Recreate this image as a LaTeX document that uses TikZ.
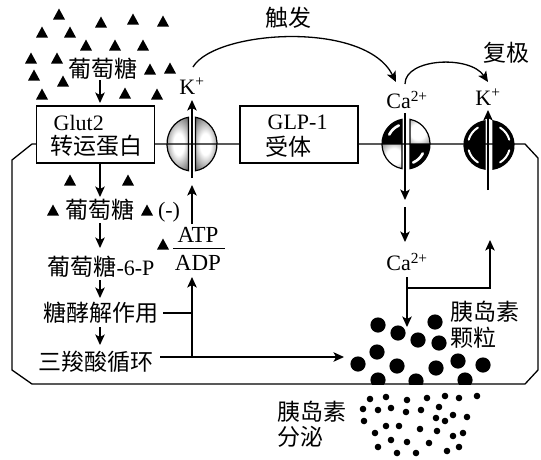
\documentclass[tikz,border=0pt]{standalone}
\usepackage{fontspec}
\setmainfont{Liberation Serif}
\newfontfamily\cjk{Noto Sans CJK SC}
\usetikzlibrary{arrows.meta}
% fills of the channel subunits
\pgfdeclareradialshading{chanlight}{\pgfpoint{0bp}{0bp}}{color(0bp)=(white); color(16bp)=(white); color(36bp)=(black!45); color(50bp)=(black!85)}
\pgfdeclareradialshading{chanmid}{\pgfpoint{0bp}{0bp}}{color(0bp)=(white); color(10bp)=(white); color(30bp)=(black!60); color(50bp)=(black!90)}
% part of a channel: arc of its ellipse, closed along the central slit
\newcommand\qpath[7]{(#1,#2) ++(#5:#3 and #4) arc[start angle=#5,end angle=#6,x radius=#3,y radius=#4] -- (#7,#2) -- cycle}
\tikzset{
  tri/.pic={\fill (-6,5.5) -- (6,5.5) -- (0,-5.5) -- cycle;},
}
\begin{document}
\begin{tikzpicture}[x=1pt,y=-1pt,line width=1.3pt,
  arr/.style={-{Stealth[length=10.5pt,width=9.5pt,inset=2.5pt]}},
  lat/.style={inner sep=0pt,font=\fontsize{22}{24}\selectfont},
  zh/.style={inner sep=0pt,font=\cjk\fontsize{23}{25}\selectfont},
  membox/.style={draw,fill=white,line width=1.3pt,minimum width=118pt,minimum height=57pt,inner sep=0pt},
  crescent/.style={white,line width=2.6pt,line cap=round},
  chanline/.style={line width=1.2pt},
]
\useasboundingbox (0,0) rectangle (541,459);

% glucose molecules
\foreach \p in {(59,14),(101,22),(133,19),(163,21),(42,32),(70,32),(86,45),(115,45),(143,45),
  (31,58),(57,58),(150,69),(170,68),(34,75),(63,81),(42,94),(125,93),(157,94),
  (70,180),(128,180),(53,210),(147,210),(163,244)}
  \pic at \p {tri};

% KATP channel
\shade[shading=chanmid] \qpath{192}{144}{25}{27}{98}{262}{188.5};
\shade[shading=chanmid] \qpath{192}{144}{25}{27}{-82}{82}{195.5};
\draw[chanline] \qpath{192}{144}{25}{27}{98}{262}{188.5};
\draw[chanline] \qpath{192}{144}{25}{27}{-82}{82}{195.5};

% voltage-gated Ca channel
\fill \qpath{406}{144}{24}{25}{180}{260.4}{402};
\shade[shading=chanlight] \qpath{406}{144}{24}{25}{99.6}{180}{402};
\shade[shading=chanlight] \qpath{406}{144}{24}{25}{279.6}{360}{410};
\fill \qpath{406}{144}{24}{25}{0}{80.4}{410};
\draw[crescent] (406,144) ++(208:19 and 20) arc[start angle=208,end angle=248,x radius=19,y radius=20];
\draw[crescent] (406,144) ++(28:19 and 20) arc[start angle=28,end angle=68,x radius=19,y radius=20];
\draw[chanline] \qpath{406}{144}{24}{25}{99.6}{260.4}{402};
\draw[chanline] \qpath{406}{144}{24}{25}{-80.4}{80.4}{410};

% voltage-gated K channel
\fill \qpath{489}{145}{25}{24.5}{99.2}{260.8}{485};
\fill \qpath{489}{145}{25}{24.5}{-80.8}{80.8}{493};
\foreach \a/\b in {195/238,122/165,302/345,15/58}
  \draw[crescent,line width=2pt] (489,145) ++(\a:21 and 20.5) arc[start angle=\a,end angle=\b,x radius=21,y radius=20.5];
\draw[chanline] \qpath{489}{145}{25}{24.5}{99.2}{260.8}{485};
\draw[chanline] \qpath{489}{145}{25}{24.5}{-80.8}{80.8}{493};

% insulin granules
\begin{scope}
  \clip (340,290) rectangle (500,384);
  \foreach \p in {(378,325),(398,333),(418,340),(435,322),(439,343),(377,352),(358,364),
    (397,366),(436,368),(458,361),(483,365),(378,380),(416,381),(465,380)}
    \fill \p circle[radius=7.6pt];
\end{scope}
% secreted insulin
\foreach \p in {(370,399),(386,397),(407,400),(427,398),(445,396),(459,398),(477,396),
  (363,409),(378,410),(391,408),(406,412),(421,410),(439,407),
  (436,418),(445,421),(453,415),(467,417),
  (364,421),(386,426),(399,426),(420,429),(437,431),(463,433),(453,436),
  (375,433),(391,440),(407,442),(429,443),(459,447),
  (378,447),(397,453),(416,453),(447,451)}
  \fill \p circle[radius=3.3pt];

% cell membrane
\draw (37,144) -- (32,144) -- (12,160) -- (12,370) -- (32,384) -- (525,384) -- (538,370)
  -- (538,158) -- (525,144) -- (154,144);

% membrane proteins
\node[membox] (glut) at (95.5,134.5) {};
\node[lat,anchor=west] (glut1) at (53,123) {Glut2};
\node[zh,anchor=west] (glut2) at (50,146) {转运蛋白};
\node[membox] (glp) at (299,134.5) {};
\node[lat,anchor=west] (glp1) at (267,122) {GLP-1};
\node[zh,anchor=west] (glp2) at (265,147) {受体};

% labels
\node[zh] (glcout) at (103,69) {葡萄糖};
\node[zh] (glcin) at (100,210) {葡萄糖};
\node[lat] (minus) at (169,212) {(-)};
\node[lat] (g6p) at (101,267) {{\cjk\fontsize{23}{25}\selectfont 葡萄糖}-6-P};
\node[zh] (glyc) at (101,313) {糖酵解作用};
\node[zh] (tca) at (96,362) {三羧酸循环};
\node[lat,font=\fontsize{23}{24}\selectfont] (atp) at (198,235) {ATP};
\node[lat,font=\fontsize{23}{24}\selectfont] (adp) at (198,263) {ADP};
\draw[line width=1pt] (173,248) -- (225,248);
\node[lat] (k1) at (192,86) {K\textsuperscript{+}};
\node[lat] (ca1) at (407,100) {Ca\textsuperscript{2+}};
\node[lat] (k2) at (488,97) {K\textsuperscript{+}};
\node[lat] (ca2) at (407,262) {Ca\textsuperscript{2+}};
\node[zh] (trig) at (288,18) {触发};
\node[zh] (repol) at (506,53) {复极};
\node[zh,anchor=west] (gran1) at (450,312) {胰岛素};
\node[zh,anchor=west] (gran2) at (450,338) {颗粒};
\node[zh,anchor=west] (sec1) at (277,412) {胰岛素};
\node[zh,anchor=west] (sec2) at (277,437) {分泌};

% glucose pathway
\coordinate (a0) at (100,80);  \coordinate (a1) at (100,103);
\coordinate (b0) at (100,163); \coordinate (b1) at (100,197);
\coordinate (c0) at (100,223); \coordinate (c1) at (100,248);
\coordinate (d0) at (100,280); \coordinate (d1) at (100,298);
\coordinate (e0) at (100,327); \coordinate (e1) at (100,345);
\draw[arr] (a0) -- (a1);
\draw[arr] (b0) -- (b1);
\draw[arr] (c0) -- (c1);
\draw[arr] (d0) -- (d1);
\draw[arr] (e0) -- (e1);

% ATP production and KATP closing
\coordinate (glycend) at (163,313);
\coordinate (tcaend) at (160,357);
\coordinate (jg) at (192,313);
\coordinate (jt) at (192,357);
\coordinate (adpin) at (192,277);
\coordinate (atpout) at (192,224);
\coordinate (katpin) at (192,185);
\coordinate (granin) at (344,357);
\draw (glycend) -- (jg);
\draw[arr] (jt) -- (adpin);
\draw[arr] (tcaend) -- (granin);
\draw[arr] (atpout) -- (katpin);
\coordinate (k1low) at (192,178);
\coordinate (k1up) at (192,100);
\draw[arr] (k1low) -- (k1up);

% depolarisation and repolarisation
\coordinate (t0) at (193,67);
\coordinate (t1) at (396,82);
\draw[arr] (t0) .. controls (215,30) and (365,20) .. (t1);
\coordinate (r0) at (405,84);
\coordinate (r1) at (488,82);
\draw[arr] (r0) .. controls (405,58) and (470,55) .. (r1);

% Ca influx
\coordinate (ca1up) at (405,113);
\coordinate (ca1dn) at (405,200);
\draw[arr] (ca1up) -- (ca1dn);
\coordinate (ca2in) at (405,207);
\coordinate (ca2top) at (405,242);
\draw[arr] (ca2in) -- (ca2top);
\coordinate (ca2out) at (407,277);
\coordinate (grantop) at (407,327);
\draw[arr] (ca2out) -- (grantop);
\coordinate (split) at (407,288);
\coordinate (kup) at (490,240);
\draw[arr] (split) -| (kup);

% K efflux
\coordinate (k2low) at (488,190);
\coordinate (k2up) at (488,110);
\draw[arr] (k2low) -- (k2up);
\end{tikzpicture}
\end{document}
